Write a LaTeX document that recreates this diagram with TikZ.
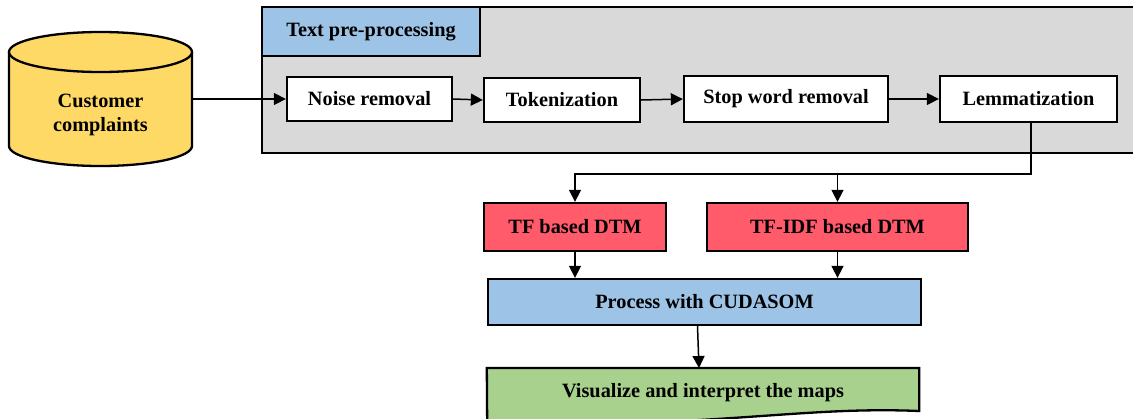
\documentclass[tikz,border=0pt]{standalone}
\usepackage{fontspec}
\setmainfont{Liberation Serif}
\usetikzlibrary{arrows.meta}
\definecolor{cylyellow}{HTML}{FFD966}
\definecolor{panelgray}{HTML}{D9D9D9}
\definecolor{hdrblue}{HTML}{9DC3E6}
\definecolor{dtmred}{HTML}{FF5B6B}
\definecolor{visgreen}{HTML}{A9D18E}
\tikzset{
  lbl/.style={font=\bfseries\fontsize{20.3}{24}\selectfont},
  stepbox/.style={lbl, draw=black, line width=2.3pt, inner sep=0pt, align=center},
  arr/.style={draw=black, line width=1.5pt, -{Triangle[length=12pt,width=12pt]}},
}
\begin{document}
\begin{tikzpicture}[x=1pt,y=-1pt]
\useasboundingbox (0,0) rectangle (1133,418);
\clip (0,0) rectangle (1133,418);
% gray panel
\draw[fill=panelgray, line width=2.5pt] (262,7) rectangle (1145,153);
\node[stepbox, fill=hdrblue, minimum width=218pt, minimum height=49pt] (hdr) at (371,31.5) {Text pre-processing};
% cylinder
\draw[fill=cylyellow, line width=2.3pt] (9,52) -- (9,146) arc[start angle=180, end angle=360, x radius=91.5pt, y radius=20pt] -- (192,52);
\draw[fill=cylyellow, line width=2.3pt] (100.5,52) ellipse [x radius=91.5pt, y radius=20pt];
\node[minimum width=183pt, minimum height=134pt, inner sep=0pt] (cc) at (100.5,99) {};
\node[lbl, align=center, inner sep=0pt] (cctext) at (100.5,115) {Customer\\complaints};
% pre-processing steps
\node[stepbox, fill=white, minimum width=165pt, minimum height=44pt] (noise) at (369.5,99) {Noise removal};
\node[stepbox, fill=white, minimum width=156pt, minimum height=44pt] (tok) at (562,100) {Tokenization};
\node[stepbox, fill=white, minimum width=204pt, minimum height=46pt] (stop) at (786,99) {Stop word removal};
\node[stepbox, fill=white, minimum width=177pt, minimum height=46pt] (lem) at (1028.5,99) {Lemmatization};
% DTMs
\node[stepbox, fill=dtmred, minimum width=182pt, minimum height=48pt] (tf) at (575,227) {TF based DTM};
\node[stepbox, fill=dtmred, minimum width=261pt, minimum height=48pt] (tfidf) at (837.5,227) {TF-IDF based DTM};
\node[stepbox, fill=hdrblue, minimum width=433pt, minimum height=46pt] (proc) at (704.5,302) {Process with CUDASOM};
% visualize (document shape)
\node[lbl, minimum width=432pt, minimum height=50pt, inner sep=0pt, anchor=north] (vis) at (703,368) {};
\draw[fill=visgreen, line width=2.3pt] (vis.north west) -- (vis.north east) -- ([yshift=-43pt]vis.north east)
  .. controls ([xshift=-120pt,yshift=-38pt]vis.north east) and ([xshift=-200pt,yshift=-60pt]vis.north east) .. ([xshift=-432pt,yshift=-56pt]vis.north east) -- cycle;
\node[lbl] at ([yshift=-25pt]vis.north) {Visualize and interpret the maps};
% connectors
\draw[arr] (cc.east) -- (noise.west);
\draw[arr] (noise.east) -- (tok.west);
\draw[arr] (tok.east) -- (stop.west);
\draw[arr] (stop.east) -- (lem.west);
\coordinate (split) at (575,174);
\draw[arr] ([xshift=2.5pt]lem.south) |- (split) -- (tf.north);
\draw[arr] (tfidf.north |- split) -- (tfidf.north);
\draw[arr] (tf.south) -- (tf.south |- proc.north);
\draw[arr] (tfidf.south) -- (tfidf.south |- proc.north);
\draw[arr] ([xshift=-7pt]proc.south) -- ([xshift=-4pt]vis.north);
\end{tikzpicture}
\end{document}
